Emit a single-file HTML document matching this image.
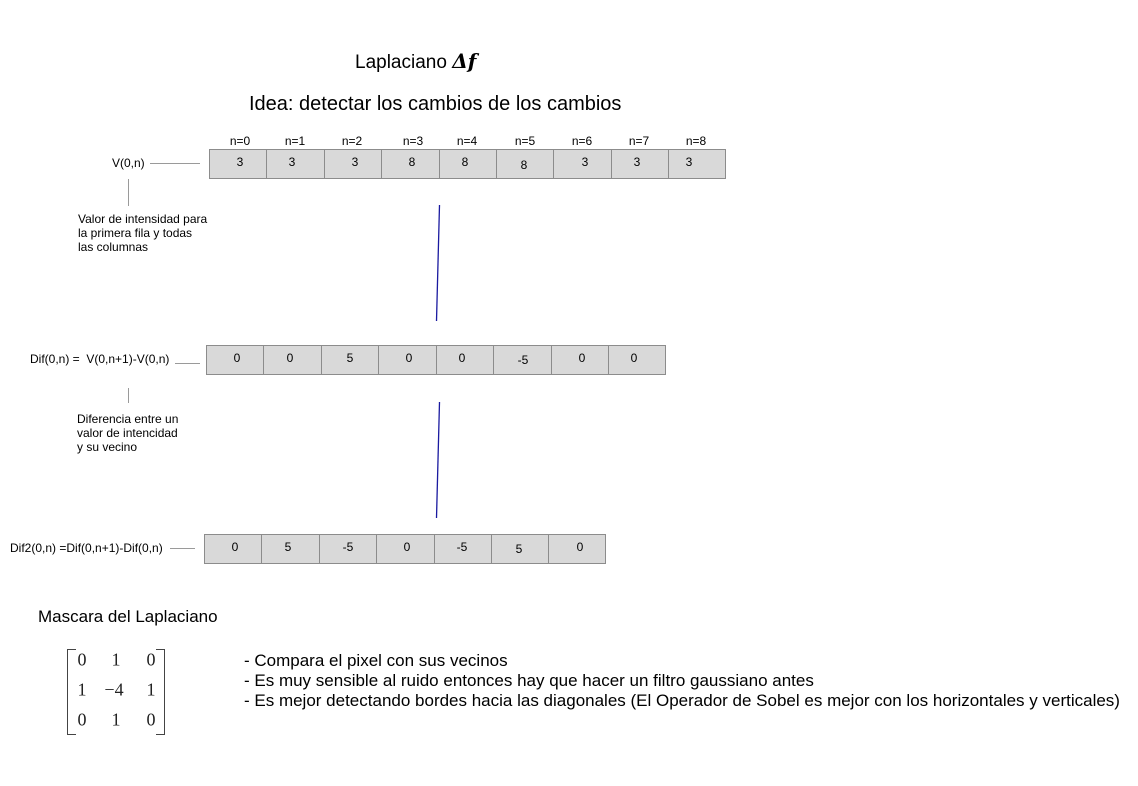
<!DOCTYPE html>
<html><head><meta charset="utf-8"><style>
body{margin:0;background:#fff;width:1138px;height:786px;position:relative;overflow:hidden;font-family:"Liberation Sans",Arial,sans-serif;color:#000}
.t{position:absolute;white-space:nowrap}
.s{font-size:12px}
.c{position:absolute;background:#d9d9d9;border:1px solid #8c8c8c;box-sizing:border-box}
.v{position:absolute;font-size:12px;transform:translate(-50%,-50%)}
.m{position:absolute;font-family:'Liberation Serif',serif;font-size:18px;color:#222;transform:translate(-50%,-50%)}
.hl{position:absolute;height:1px;background:#9a9a9a}
.vl{position:absolute;width:1px;background:#9a9a9a}
</style></head><body>
<div class="t" style="left:355px;top:49px;font-size:19px">Laplaciano <b style="font-family:'DejaVu Serif',serif;font-style:italic;font-size:20px">Δ<span style="font-style:italic">f</span></b></div>
<div class="t" style="left:249px;top:93px;font-size:20px">Idea: detectar los cambios de los cambios</div>

<div class="t s" style="left:112px;top:156px">V(0,n)</div>
<div class="hl" style="left:150px;top:163px;width:50px"></div>
<div class="vl" style="left:128px;top:179px;height:27px"></div>
<div class="t s" style="left:78px;top:212px;line-height:14px">Valor de intensidad para<br>la primera fila y todas<br>las columnas</div>

<div class="t s" style="left:30px;top:352px">Dif(0,n) =&nbsp; V(0,n+1)-V(0,n)</div>
<div class="hl" style="left:175px;top:363px;width:25px"></div>
<div class="vl" style="left:128px;top:388px;height:15px"></div>
<div class="t s" style="left:77px;top:412px;line-height:14px">Diferencia entre un<br>valor de intencidad<br>y su vecino</div>

<div class="t s" style="left:10px;top:541px">Dif2(0,n) =Dif(0,n+1)-Dif(0,n)</div>
<div class="hl" style="left:170px;top:548px;width:25px"></div>

<svg style="position:absolute;left:0;top:0" width="1138" height="786">
<line x1="439.5" y1="205" x2="436.5" y2="321" stroke="#1a1aa0" stroke-width="1.3"/>
<line x1="439.5" y1="402" x2="436.5" y2="518" stroke="#1a1aa0" stroke-width="1.3"/>
</svg>

<div class="t" style="left:38px;top:607px;font-size:17px">Mascara del Laplaciano</div>
<div style="position:absolute;left:67px;top:649px;width:8px;height:84px;border:1px solid #444;border-right:none"></div>
<div style="position:absolute;left:156px;top:649px;width:8px;height:84px;border:1px solid #444;border-left:none"></div>
<span class="m" style="left:82px;top:660px">0</span><span class="m" style="left:116px;top:660px">1</span><span class="m" style="left:151px;top:660px">0</span>
<span class="m" style="left:82px;top:690px">1</span><span class="m" style="left:114px;top:690px">−4</span><span class="m" style="left:151px;top:690px">1</span>
<span class="m" style="left:82px;top:720px">0</span><span class="m" style="left:116px;top:720px">1</span><span class="m" style="left:151px;top:720px">0</span>
<div class="t" style="left:244px;top:651px;font-size:17px;line-height:20px">- Compara el pixel con sus vecinos<br>- Es muy sensible al ruido entonces hay que hacer un filtro gaussiano antes<br>- Es mejor detectando bordes hacia las diagonales (El Operador de Sobel es mejor con los horizontales y verticales)</div>

<script>
function row(xs,top,h,vals,cx,cy){
 for(let i=0;i<xs.length-1;i++){
  const d=document.createElement('div');d.className='c';
  d.style.cssText=`left:${xs[i]}px;top:${top}px;width:${xs[i+1]-xs[i]+1}px;height:${h}px`;
  document.body.appendChild(d);
 }
 for(let i=0;i<vals.length;i++){
  const s=document.createElement('span');s.className='v';s.textContent=vals[i];
  s.style.left=cx[i]+'px';s.style.top=cy[i]+'px';document.body.appendChild(s);
 }
}
row([209,266,324,381,439,496,553,611,668,725],149,30,['3','3','3','8','8','8','3','3','3'],[240,292,355,412,465,524,585,637,689],[162,162,162,162,162,165,162,162,162]);
const nx=[240,295,352,413,467,525,582,639,696];
nx.forEach((x,i)=>{const s=document.createElement('span');s.className='v';s.textContent='n='+i;s.style.left=x+'px';s.style.top='141px';document.body.appendChild(s);});
row([206,263,321,378,436,493,551,608,665],345,30,['0','0','5','0','0','-5','0','0'],[237,290,350,409,462,523,582,634],[358,358,358,358,358,360,358,358]);
row([204,261,319,376,434,491,548,605],534,30,['0','5','-5','0','-5','5','0'],[235,288,348,407,462,519,580],[547,547,547,547,547,549,547]);
</script>
</body></html>
